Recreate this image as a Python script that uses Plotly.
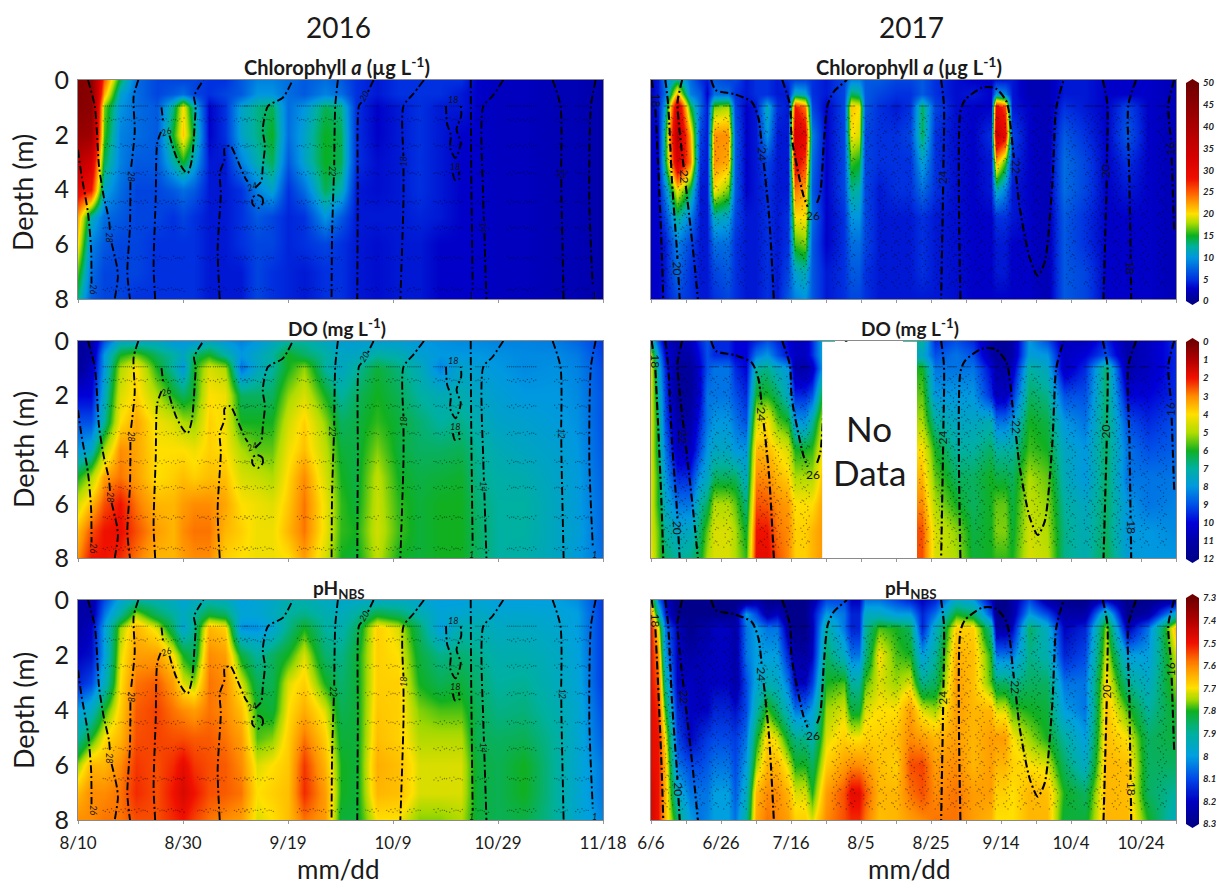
import numpy as np
import plotly.graph_objects as go

W, H = 1216, 887
depths = [0, 0.5, 1, 2, 3, 4, 5, 6, 7, 8]
days_2016 = [0, 2.5, 5, 8, 11, 15, 18, 20, 22, 25, 28, 31, 34, 37, 40, 43, 47, 50, 53, 57, 61, 65, 69, 73, 76, 80, 85, 91, 95, 100]
days_2017 = [0, 2, 4, 7.5, 11, 14, 16, 18, 22, 24, 27, 30, 33, 36, 39, 41, 44, 46, 50, 55, 57, 59.5, 61, 65, 70, 74, 77.5, 81, 87, 92, 97, 98.5, 101, 103, 108, 113, 118, 124, 130, 136, 142, 150]

# each inner list is one sampling date, surface to bottom
chl_2016 = [
 [47,47,46,43,37,30,22,20,16,13],[45,45,45,42,33,28,12,9,8,7],[25,22,17,16,14,11,8,7,6,6],[14,11,10,9,9,8,7,6,6,6],
 [8,8,8,8,7,6,6,6,6,5],[6,6,7,7,7,6,6,5,5,5],[6,7,13,15,12,7,5,5,5,5],[6,8,20,21,15,8,6,5,5,5],[6,6,12,14,11,7,5,5,5,5],
 [5,5,3,3,4,4,4,4,4,4],[5,6,5,5,4,4,4,4,4,4],[7,7,11,11,9,5,5,5,4,4],[9,10,13,13,12,9,7,6,6,6],[9,10,14,15,14,11,6,6,5,5],
 [8,8,8,8,7,5,4.5,4.5,4.5,4.5],[7,7,10,11,11,8,5,5,4,4],[8,9,14,15,15,14,10,6,5,5],[7,8,13,14,14,12,7,5,5,5],[5,5,5,5,5,4,4,4,4,4],
 [4,4,3,3,3.5,3.5,4,3.5,3.5,3.5],[5,5,4,4,4,4,4,4,4,4],[5,5,5,5,5,5,4.5,4,4,4],[5,5,4,4,4,4,4,3,3,3],[5,4,4,3,3,3,3,3,3,3],
 [3,3,3,3,3,3,3,3,3,3],[2.5,2.5,2.5,2.5,2.5,2.5,2.5,2.5,2.5,2.5],[2.5,2.5,2.5,2.5,2.5,2.5,2.5,2.5,2.5,2.5],[2,2,2,2,2,2,2,2,2,2],[2,2,2,2,2,2,2,2,2,2],[1.5,1.5,1.5,1.5,1.5,1.5,1.5,1.5,1.5,1.5],
]
do_2016 = [
 [11.5,11.5,11.5,10,9,8,6,4.5,3.5,3],[11,11,10.5,10,9,7.5,5,3.5,2.5,2],[9,8,8,7.5,7,5,3.2,2.5,2,2],[7.5,6,5,4.5,4,3,2.8,2,1.9,2.2],
 [7.5,5.5,4,3.8,3.3,3.3,3.2,2.8,2.5,2.8],[7.5,6.5,6,5,4.2,4,4,3.5,3.2,3.5],[8,7,7,6,4.5,4,3.8,3.5,3.5,3.5],[8,7.5,8,6.5,5,4,3.6,3.2,3,3.2],
 [8,6.5,6,6,5.2,4.2,3.8,3,2.8,3],[7.5,6,4.5,4,3.8,3.8,3.6,3,2.8,3],[8,7,5,4.2,4.2,4,3.6,3.3,3.5,3.8],[8.3,8,8.6,6.5,6,5,4.5,4,3.8,4],
 [8,7.5,7.5,6.5,6,5.5,4.7,4.2,4.2,4.2],[7.5,7,7,6.5,6,5.5,5,4.4,4.2,4.2],[7,6,6,5.2,4.6,4.2,3.9,3.7,3.5,4],[7,6.5,5.2,4.5,3.8,3.6,3,2.8,2.8,3.2],
 [7.5,7,7,6,5.2,4.8,4.5,4.2,4.2,4.5],[7.8,7.5,7.5,7,6.5,6.2,6,5.8,5.8,6],[7.8,7.5,7,6.5,6.3,6.3,6.3,6.2,6,6.2],[7.8,7,6.2,6,5.8,5.3,4.8,4.7,4.6,4.8],
 [7.8,7.2,6.7,6.4,6.2,6.2,6,5.8,5.7,6],[8,7.7,7.3,7,6.6,6.5,6.3,6.2,6.2,6.2],[8.1,8,8.3,7.3,7,6.5,6.2,6,6,6],[8.2,8,7.6,7.2,6.8,6.4,6.1,6,6,6],
 [8.2,8,7.8,7.5,7.2,6.9,6.8,6.6,6.5,6.5],[8.3,8.1,8,7.8,7.6,7.3,7.1,7,7,7],[8.3,8.2,8.2,8,7.7,7.5,7.2,7,7,7.1],[8.4,8.2,8.1,8,7.9,7.7,7.6,7.5,7.5,7.5],
 [8.7,8.4,8.3,8.2,8.1,8,7.9,7.9,7.8,7.9],[9.3,9.2,9.1,9,9,8.9,8.8,8.7,8.7,8.6],
]
ph_2016 = [
 [8.25,8.25,8.25,8.2,8.15,8.0,7.9,7.75,7.65,7.6],[8.25,8.25,8.2,8.18,8.1,7.95,7.8,7.65,7.6,7.6],[8.1,8.05,8.0,8.0,7.95,7.8,7.7,7.65,7.6,7.58],
 [7.98,7.9,7.75,7.72,7.7,7.68,7.65,7.6,7.58,7.58],[7.9,7.75,7.65,7.62,7.58,7.56,7.55,7.53,7.52,7.55],[7.92,7.85,7.72,7.62,7.56,7.54,7.54,7.55,7.55,7.55],
 [7.95,7.9,7.85,7.7,7.62,7.58,7.55,7.52,7.5,7.52],[7.98,7.95,7.98,7.8,7.72,7.6,7.55,7.48,7.46,7.5],[7.95,7.9,7.88,7.85,7.75,7.62,7.56,7.53,7.5,7.54],
 [7.92,7.82,7.65,7.6,7.58,7.58,7.56,7.55,7.55,7.58],[7.94,7.85,7.68,7.62,7.6,7.6,7.58,7.56,7.56,7.6],[8.0,7.98,8.02,7.82,7.72,7.66,7.62,7.6,7.58,7.62],
 [7.98,7.98,8.02,7.9,7.84,7.8,7.78,7.72,7.7,7.72],[7.96,7.95,7.98,7.85,7.84,7.82,7.76,7.7,7.68,7.7],[7.92,7.9,7.88,7.8,7.72,7.7,7.68,7.67,7.66,7.66],
 [7.92,7.88,7.8,7.72,7.68,7.64,7.58,7.53,7.52,7.58],[7.95,7.92,7.9,7.86,7.8,7.72,7.68,7.65,7.62,7.62],[7.96,7.94,7.92,7.88,7.86,7.84,7.82,7.8,7.8,7.82],
 [7.96,7.9,7.85,7.82,7.82,7.82,7.82,7.82,7.82,7.82],[7.95,7.82,7.68,7.68,7.68,7.67,7.66,7.64,7.65,7.7],[7.95,7.85,7.72,7.7,7.68,7.68,7.68,7.66,7.66,7.7],
 [7.97,7.92,7.85,7.82,7.8,7.76,7.74,7.72,7.72,7.76],[8.0,7.98,8.0,7.88,7.84,7.78,7.74,7.72,7.72,7.76],[8.0,7.97,7.92,7.86,7.82,7.78,7.74,7.72,7.72,7.74],
 [7.98,7.95,7.92,7.88,7.86,7.84,7.84,7.82,7.82,7.82],[8.0,7.97,7.95,7.92,7.9,7.88,7.85,7.84,7.84,7.84],[8.0,7.97,7.95,7.92,7.89,7.87,7.84,7.8,7.8,7.83],
 [8.0,7.98,7.97,7.95,7.94,7.92,7.9,7.9,7.9,7.9],[8.02,8.0,8.0,7.99,7.98,7.97,7.97,7.97,7.97,7.97],[8.12,8.12,8.12,8.12,8.12,8.1,8.08,8.05,8.05,8.03],
]
chl_2017 = [
 [3,3,3,3,3,3,3,3,3,3],[4,4,4,3,3,3,3,3,3,3],[9,8,11,14,14,9,6,4,4,4],[13,22,34,37,33,20,13,9,8,6],[8,9,15,22,24,14,9,6,5,5],
 [5,7,8,6,5,4,4,4,4,4],[4,3,4,4,4,4,4,4,4,4],[7,8,17,23,23,20,12,8,6,5],[6,8,18,23,22,17,11,8,7,6],[6,5,6,7,7,7,6,5,5,5],[4,4,3,3,3,3,4,4,4,4],
 [5,5,4,4,4,4,4,4,4,4],[5,5,12,10,6,5,5,5,5,5],[4,4,5,4,4,4,4,4,4,4],[5,4,4,4,4,4,5,5,6,7],[6,12,28,33,30,24,20,16,11,9],[6,11,24,30,26,22,20,17,12,10],
 [5,5,6,9,8,7,8,7,7,7],[4,4,3,3,3,3,3,3,4,4],[6,6,6,6,6,6,5,5,5,5],[9,14,21,20,16,13,10,8,7,6],[9,13,20,19,15,12,10,8,7,6],[7,7,7,6,6,6,6,6,5,5],
 [7,6,5,5,5,4,4,4,4,4],[6,5,4,5,5,5,4,4,4,4],[6,5,5,6,5,5,4,4,4,4],[7,7,14,14,11,8,5,5,5,4],[5,5,6,5,5,5,4,4,4,4],
 [3.5,3.5,3.5,3.5,3.5,3.5,3.5,3.5,3.5,3.5],[3,4,3,3,3,3,3,3,3,3],[3,3,3,5,4,4,3,3,3,3],[4,10,30,34,22,12,5,4,4,3],[4,9,26,30,16,9,5,4,4,3],[4,4,4,6,5,4,4,3,3,3],
 [2,2,3,3,3,3,3,3,3,3],[2,2,2,2,2,2,2,2,2,2],[4,4,5,7,8,8,7,7,7,7],[4,4,4,5,6,6,5,5,6,6],[3,3,3,3,3,3,3,3,3,3],
 [3,3,6,7,5,4,3,3,3,3],[3,3,3,3,3,3,3,3,3,3],[2,2,2,2,2,2,2,2,2,2],
]
N = None
do_2017 = [
 [7,5,4.5,4.5,4.5,4.5,4.5,4.5,4.5,4.2],[9,8,7.5,7,6.5,6.5,6,6,5.5,5.5],[10.5,10,9.5,9.2,9,8.5,8,7.5,7,6.5],[11,11,11.5,11.5,11,10.5,9.5,8.5,7.5,7],
 [10.5,11,11.5,11.5,11,10.5,9.5,8.5,7.5,6.8],[9.5,9.8,10,10,9.5,9,8,7,6.5,6.2],[9,9,9,8.5,8.5,8,7.5,6.5,5.5,5],[9.5,9.5,8.5,8.5,8,7.5,6.5,5,4.5,4.5],[9.5,9.5,8.5,8.5,8,7.5,6.5,5,4.5,4.5],
 [10,10,9.5,9,8.5,8,6.5,5.5,5,5],[10,10,10,9.5,9,8,7.5,6.8,6.2,5.8],[9.5,8.5,7,6,4.5,3.5,3,2.5,2,1.8],[9,8,6.8,6,4,3.5,3,2.6,2,1.8],
 [9.5,9,7.5,6.5,5.5,4,3.5,3,2.8,2.5],[10,9.8,8,7.5,6,4.5,3.8,3.2,3,3],[10.5,10.5,11,9.5,8,6,5,4,3.8,3.8],[10.5,10.5,11,9.5,8,6,5,4,3.8,3.8],[9.5,9.5,10.5,9,7,5.8,5,4,3.5,3.5],
 [7,7,7,5,4,3.5,3,3,3,3],[N]*10,[N]*10,[N]*10,[N]*10,[N]*10,[N]*10,
 [7,7.5,6,5.5,5,4,3.5,3,2.5,2.5],[7,7.5,6,5.5,5,4,3.5,3,2.5,2.5],[9.5,9,8.5,8,7,6,5.5,5,4.5,4.5],[9,8.5,8.5,8,7.5,7,6.5,6,5.2,5],
 [9.5,9,8.5,8,7.5,7,6.5,6.5,6.3,6.2],[11,11,10,9.5,7.2,6.5,6,6,6,6],[11.5,11.5,11,10.5,8.5,7,6.3,5.5,5.3,5.8],[11.5,11.5,11,10.5,8.5,7,6.3,5.5,5.3,5.8],[11,11,10.5,9.5,8,7,6.5,6.3,6.2,6],
 [8,7.8,7,6.5,6,5.7,5,4.8,4.6,4.5],[9,8,7.5,6.8,6.3,6,5.5,5.2,5,4.8],[10.5,10.5,10.5,9,8,7.5,7.3,7,6.8,6.8],[10.5,10,9.5,9,8.5,8,8,7.5,7.3,7.2],
 [9.5,9,6.5,6.5,6.5,6.5,6.5,6.5,6.5,6.3],[11,11,11,10,9,8.5,8.5,8,8,7.8],[10.5,10.5,10.5,10,9.5,9,8.5,8.5,8,8],[9.5,9.5,9.5,9.5,9,8.8,8.5,8.3,8.2,8],
]
ph_2017 = [
 [7.7,7.6,7.5,7.5,7.5,7.48,7.48,7.48,7.46,7.46],[8.05,7.9,7.7,7.6,7.55,7.52,7.5,7.5,7.5,7.5],[8.2,8.15,8.05,8,7.9,7.8,7.7,7.65,7.65,7.65],
 [8.3,8.3,8.2,8.2,8.2,8.15,8.1,8.05,7.95,7.85],[8.3,8.3,8.3,8.25,8.2,8.2,8.2,8.1,8.05,8.0],[8.3,8.3,8.25,8.22,8.22,8.2,8.15,8.1,8.05,8.05],
 [8.3,8.3,8.25,8.22,8.2,8.2,8.12,8.08,8.05,8.03],[8.3,8.3,8.2,8.2,8.2,8.15,8.1,8.05,8.0,8.0],[8.3,8.3,8.2,8.2,8.2,8.15,8.1,8.05,8.0,8.0],[8.3,8.28,8.25,8.25,8.25,8.18,8.12,8.1,8.08,8.05],
 [8.3,8.0,8.05,8.05,8.1,8.1,8.05,8,7.95,7.9],[8.25,8.1,8.0,8,7.98,7.92,7.82,7.75,7.65,7.63],[8.3,8.25,8.05,8,7.92,7.78,7.68,7.65,7.6,7.58],
 [8.3,8.2,8.05,8,7.95,7.85,7.72,7.65,7.6,7.6],[8.3,8.3,8.25,8.15,8.05,7.95,7.82,7.72,7.65,7.62],[8.3,8.3,8.3,8.25,8.2,8.05,7.88,7.8,7.72,7.68],[8.3,8.3,8.3,8.25,8.2,8.05,7.88,7.8,7.72,7.68],
 [8.25,8.2,8.22,8.2,8.12,8.0,7.92,7.85,7.8,7.72],[8.1,8,7.9,7.85,7.8,7.75,7.72,7.68,7.62,7.6],[8.1,8.05,8.05,7.95,7.78,7.72,7.68,7.62,7.55,7.55],
 [8.2,8.15,8.15,8.05,7.9,7.82,7.7,7.6,7.48,7.52],[8.2,8.15,8.15,8.05,7.9,7.82,7.7,7.6,7.48,7.52],[8.05,7.95,7.9,7.88,7.78,7.72,7.68,7.62,7.55,7.58],[8.05,7.95,7.78,7.7,7.72,7.7,7.68,7.66,7.65,7.66],
 [8.1,8.0,7.8,7.78,7.75,7.7,7.66,7.68,7.65,7.65],[8.15,8,7.85,7.8,7.72,7.62,7.6,7.55,7.58,7.62],[8.2,8.15,8.15,8,7.88,7.72,7.62,7.54,7.55,7.6],
 [8.15,8.05,7.95,7.9,7.85,7.75,7.65,7.62,7.6,7.58],[7.95,7.8,7.68,7.64,7.62,7.62,7.62,7.6,7.58,7.58],[8.0,7.85,7.68,7.66,7.66,7.65,7.65,7.65,7.62,7.62],
 [8.2,8.1,7.9,7.8,7.78,7.65,7.62,7.62,7.62,7.65],[8.3,8.3,8.25,8.05,7.85,7.72,7.62,7.65,7.68,7.7],[8.3,8.3,8.25,8.05,7.85,7.72,7.62,7.65,7.68,7.7],[8.25,8.25,8.2,8.05,7.88,7.78,7.7,7.68,7.7,7.7],
 [8.1,8,7.85,7.88,7.85,7.8,7.75,7.7,7.65,7.65],[8.25,8.1,7.95,7.92,7.85,7.82,7.8,7.72,7.66,7.65],[8.3,8.25,8.2,8.15,8.05,8.0,7.9,7.85,7.8,7.82],
 [8.3,8.25,8.15,8.1,8.05,8.05,8.0,7.95,7.85,7.82],[8.2,7.9,7.75,7.72,7.68,7.66,7.66,7.65,7.65,7.65],[8.3,8.3,8.22,8.0,7.88,7.78,7.7,7.66,7.66,7.65],
 [8.3,8.25,8.05,8.0,7.95,7.9,7.85,7.85,7.85,7.8],[8.25,7.95,7.65,7.72,7.75,7.8,7.82,7.85,7.9,7.95],
]

# temperature isotherms, (day, depth)
isotherms_2016 = [
 [(1.9,0),(3.2,.95),(3.6,1.9),(4,3.15),(4.9,4.25),(5.9,5.1),(6.2,5.8),(7.4,6.8),(7.6,7.2),(7,8)],
 [(0,2.55),(.6,3.4),(1.9,4.85),(2.5,6.2),(2.6,7.8)],
 [(11.5,0),(10.6,.6),(10.8,1.9),(10,3.4),(9.9,5.35),(9.4,7.05),(9.9,8)],
 [(15.9,1),(16.2,1.5)],
 [(14.7,8),(14.4,6.8),(14.8,4.35),(15.1,2.3),(16,1.8),(17.2,1.9),(18.7,2.8),(20.2,3.3),(20.9,3.4),(21.7,2.9),(22.2,1.7),(22.4,.95),(22.1,.6),(23.9,0)],
 [(27,8),(26.6,6.2),(27.2,4.1),(27,3.4),(27.9,2.9),(27.9,2.5),(29,2.4),(30.3,2.9),(31.9,3.6),(33.4,4),(34.9,3.7),(35.2,3.15),(35.6,2.4),(35.2,1.8),(36.2,.95),(39,.65),(40.9,0)],
 [(34.1,4.2),(35.1,4.3),(35.2,4.5),(34.3,4.68),(33.3,4.55),(33.2,4.3),(34.1,4.2)],
 [(49.5,0),(49,.95),(48.8,3.15),(48.4,5.6),(48.3,8)],
 [(56.3,0),(54.8,.6),(53.5,.95),(53.3,4.4),(53.2,8)],
 [(65.9,0),(63.9,.5),(62,.95),(62,4.4),(61.4,8)],
 [(70.1,.95),(70.3,1.6),(71,2),(70.9,2.5),(71.9,2.85),(72.9,2.3),(72.1,1.8),(73,1.3),(72.9,.95)],
 [(71.4,3.4),(71.8,3.65),(72.7,3.6),(72.5,3.35)],
 [(74.8,0),(74.9,3.15),(75.2,8)],
 [(81,0),(78.9,.6),(77.2,.95),(77.2,4.4),(77.8,8)],
 [(90.4,0),(91.9,.95),(92.1,4.4),(92.5,8)],
 [(98.6,0),(97.7,.95),(97.4,4.4),(98.1,7.8)],
]
isotherms_2017 = [
 [(.2,0),(1.2,.9),(2,3),(3,6),(3.5,8)],
 [(4.1,0),(4.9,.9),(6,3.7),(7.4,6.2),(8.2,8)],
 [(8.9,0),(7.6,.8),(8.2,1.9),(9.8,3.7),(12,6.2),(13.4,8)],
 [(17.2,0),(18.5,.37),(23.9,.52),(28.8,.8),(30.7,1.4),(32.1,2.9),(33.7,4.9),(35.1,8)],
 [(37.5,0),(39.7,.9),(40.2,2.1),(43.5,4.2),(45.1,4.75),(46.7,4.8),(48.4,4.1),(49.5,2.1),(50.5,.9),(52.2,.43),(56,0)],
 [(82.9,0),(83.7,.9),(83.5,3.7),(82.9,8)],
 [(88.4,8),(88.4,1.15),(89.7,.73),(94.6,.28),(98.4,.3),(101.6,.8),(103.3,2.4),(105.4,4.7),(108.2,6.5),(110.5,7.15),(112.5,6.65),(114.7,3.7),(115.8,1),(117.9,0)],
 [(129.1,0),(130.4,.9),(130.2,3.7),(129.3,8)],
 [(138.6,0),(136.4,.9),(136.7,3.7),(137.2,8)],
 [(149.5,0),(147.8,.9),(148.6,2.25),(149.5,5.55)],
]
iso_labels_2016 = [(2.9,7.65,"26",90),(6.1,5.75,"28",90),(10.2,3.5,"28",90),(16.8,1.87,"26",-20),(33.1,3.88,"24",-20),(48.6,3.33,"22",90),
 (54.4,.6,"20",-60),(62,3.0,"18",-90),(71.4,.73,"18",0),(71.8,3.15,"18",0),(77.2,5.37,"14",90),(92.2,3.4,"12",90),(75,7.88,"1",0),(98.3,7.88,"1",0)]
iso_labels_2017 = [(1.3,.73,"18",90),(7.6,6.87,"20",90),(9.5,3.54,"22",90),(31.7,2.7,"24",90),(46.4,4.94,"26",0),(83.4,3.56,"24",-90),
 (104.3,3.17,"22",90),(129.9,3.35,"20",-90),(137.2,6.87,"18",90),(148.4,2.5,"16",-90)]

# sampling stations that appear as stippling
stations_2016 = [6,9,12,16,19,24,27,31,33,36,43,46,49,56,60,64,69,72,77,83,86,92,96]
stations_2017 = [5,9,14,18,22,26,32,36,40,44,53,57,62,66,70,74,78,82,86,90,94,98,102,106,110,115,120,125,128,133,137,141,146]
station_offsets = [-1.2,-.8,-.4,0,.4,.8,1.2]
row_jitter = [0,.12,-.09,.2,-.17,.05,-.03]
rows_2016 = [.95,1.45,2.4,3.4,4.45,5.4,6.5,7.65]
rows_2017 = [.95,1.4,1.9,2.4,2.9,3.4,3.9,4.4,4.9,5.4,5.9,6.4,6.9,7.4]

xticks_2016 = [0,20,40,60,80,100]
xlabels_2016 = ["8/10","8/30","9/19","10/9","10/29","11/18"]
xticks_2017 = [0,20,40,60,80,100,120,140]
xlabels_2017 = ["6/6","6/26","7/16","8/5","8/25","9/14","10/4","10/24"]
xminor_2017 = [10,30,50,70,90,110,130,150]
chl_ticks = [0,5,10,15,20,25,30,35,40,45,50]
do_ticks = [0,1,2,3,4,5,6,7,8,9,10,11,12]
ph_ticks = [7.3,7.4,7.5,7.6,7.7,7.8,7.9,8,8.1,8.2,8.3]

chl_scale = [[0,"#00008b"],[.06,"#0000c8"],[.1,"#0030e0"],[.2,"#0096e0"],[.25,"#00b0a0"],[.3,"#08b020"],[.36,"#b0dc00"],[.4,"#ffe000"],
             [.5,"#ff5a00"],[.56,"#ee1000"],[.65,"#d80000"],[.8,"#aa0000"],[1,"#6e0000"]]
do_scale = [[0,"#00008b"],[.083,"#0000a8"],[.167,"#0000d8"],[.25,"#0050e8"],[.333,"#0098e0"],[.417,"#00b0a0"],[.5,"#10b020"],[.583,"#b0dc00"],
            [.667,"#ffdf00"],[.75,"#ff8c00"],[.833,"#f01000"],[.917,"#b00000"],[1,"#700000"]]
ph_scale = [[0,"#00008b"],[.1,"#0000c0"],[.2,"#0048e8"],[.3,"#00a0e0"],[.4,"#00b0a0"],[.5,"#10b020"],[.55,"#a0d800"],[.6,"#ffe000"],
            [.7,"#ff8c00"],[.8,"#f01000"],[.9,"#b00000"],[1,"#700000"]]

FONT = "Lato"
def px(x): return x / W
def py(y): return 1 - y / H

rows_px = [(80, 299), (341, 558), (600, 820)]
cols_px = [(78, 603), (651, 1176)]
panels = [
 (0, 0, chl_2016, days_2016, chl_scale, 0, 50, False, None),
 (0, 1, chl_2017, days_2017, chl_scale, 0, 50, False, (chl_ticks, 83, 301)),
 (1, 0, do_2016, days_2016, do_scale, 0, 12, True, None),
 (1, 1, do_2017, days_2017, do_scale, 0, 12, True, (do_ticks, 342, 559)),
 (2, 0, ph_2016, days_2016, ph_scale, 7.3, 8.3, True, None),
 (2, 1, ph_2017, days_2017, ph_scale, 7.3, 8.3, True, (ph_ticks, 598, 824)),
]

def split_at_labels(line, labels, sx, sy, half_gap):
    """Break an isotherm where a label sits on it, as the contour software does."""
    segs = [list(line)]
    for (lx, ly, _t, _a) in labels:
        out = []
        for seg in segs:
            best = None; s = 0; cum = [0]
            for a, b in zip(seg, seg[1:]):
                ax_, ay_ = a[0]*sx, a[1]*sy; bx_, by_ = b[0]*sx, b[1]*sy
                L = float(np.hypot(bx_-ax_, by_-ay_)) or 1e-6
                t = max(0, min(1, ((lx*sx-ax_)*(bx_-ax_)+(ly*sy-ay_)*(by_-ay_))/L**2))
                dist = np.hypot(ax_+t*(bx_-ax_)-lx*sx, ay_+t*(by_-ay_)-ly*sy)
                if best is None or dist < best[0]:
                    best = (dist, s+t*L)
                s += L; cum.append(s)
            if best is None or best[0] > 5 or len(seg) < 2:
                out.append(seg); continue
            def at(v):
                v = max(0, min(s, v))
                for k in range(len(seg)-1):
                    if cum[k+1] >= v:
                        t = (v-cum[k])/((cum[k+1]-cum[k]) or 1e-6)
                        return (seg[k][0]+t*(seg[k+1][0]-seg[k][0]), seg[k][1]+t*(seg[k+1][1]-seg[k][1]))
                return seg[-1]
            v0, v1 = best[1]-half_gap, best[1]+half_gap
            a_seg = [p for p, c in zip(seg, cum) if c < v0] + ([at(v0)] if v0 > 0 else [])
            b_seg = ([at(v1)] if v1 < s else []) + [p for p, c in zip(seg, cum) if c > v1]
            out += [q for q in (a_seg, b_seg) if len(q) > 1]
        segs = out
    return segs

fig = go.Figure()
layout = dict(width=W, height=H, margin=dict(l=0, r=0, t=0, b=0, pad=0), paper_bgcolor="white", plot_bgcolor="white",
              showlegend=False, font=dict(family=FONT, color="#1a1a1a"))
annots, shapes = [], []
cbi = 7

for i, (r, c, cols, days, scale, zmin, zmax, flip, cb) in enumerate(panels):
    n = "" if i == 0 else str(i + 1)
    ax, ay = "x" + n, "y" + n
    assert len(cols) == len(days), (i, len(cols), len(days))
    arr = np.array(cols, dtype=float).T
    if flip:
        arr = zmin + zmax - arr
    z = [[None if np.isnan(v) else float(v) for v in row] for row in arr]
    fig.add_trace(go.Heatmap(x=days, y=depths, z=z, colorscale=scale, zmin=zmin, zmax=zmax, zsmooth="best", xaxis=ax, yaxis=ay, hoverinfo="skip", showscale=False))

    if cb:
        ticks, y0, y1 = cb
        tv = [zmin + zmax - t for t in ticks] if flip else ticks
        ramp = np.linspace(zmin, zmax, 220).tolist()
        cx, cy = "x%d" % cbi, "y%d" % cbi
        fig.add_trace(go.Heatmap(x=[0, 1], y=ramp, z=[[v, v] for v in ramp], colorscale=scale, zmin=zmin, zmax=zmax, showscale=False, xaxis=cx, yaxis=cy, hoverinfo="skip"))
        layout["xaxis%d" % cbi] = dict(domain=[px(1186), px(1199)], anchor=cy, range=[0, 1], visible=False, fixedrange=True, automargin=False)
        layout["yaxis%d" % cbi] = dict(domain=[py(y1), py(y0)], anchor=cx, side="right", range=[zmin, zmax], tickvals=tv, ticktext=[str(t) for t in ticks],
                                       ticks="", showgrid=False, zeroline=False, showline=False, ticklabelstandoff=3, automargin=False,
                                       tickfont=dict(family=FONT, size=9.5, style="italic", weight="bold", color="#222"))
        cbi += 1
        top = scale[-1][1]; bot = scale[0][1]
        shapes.append(dict(type="path", xref="paper", yref="paper", line=dict(width=0), fillcolor=top,
            path=f"M {px(1186)} {py(y0)} L {px(1192.5)} {py(y0-4)} L {px(1199)} {py(y0)} Z"))
        shapes.append(dict(type="path", xref="paper", yref="paper", line=dict(width=0), fillcolor=bot,
            path=f"M {px(1186)} {py(y1)} L {px(1192.5)} {py(y1+4)} L {px(1199)} {py(y1)} Z"))

    # stippling
    sts, rws = (stations_2016, rows_2016) if c == 0 else (stations_2017, rows_2017)
    sx, sy = [], []
    for di, d in enumerate(rws):
        for si, s in enumerate(sts):
            for oi, o in enumerate(station_offsets):
                if r == 1 and c == 1 and 48.7 < s + o < 76:
                    continue
                jit = 0 if di == 0 else row_jitter[(oi + si + di) % 7] * (1 if c == 1 else .35)
                sx.append(s + o); sy.append(d + jit)
    fig.add_trace(go.Scatter(x=sx, y=sy, mode="markers", xaxis=ax, yaxis=ay, hoverinfo="skip",
                             marker=dict(size=1.4, color="rgba(0,0,0,0.42)", line=dict(width=0))))

    if r == 1 and c == 1:
        shapes.append(dict(type="rect", xref=ax, yref=ay, x0=48.9, x1=76, y0=0.03, y1=8, fillcolor="white", line=dict(width=0), layer="above"))

    isos, labs = (isotherms_2016, iso_labels_2016) if c == 0 else (isotherms_2017, iso_labels_2017)
    scale_x = 5.25 if c == 0 else 3.5
    for line in isos:
        for seg in split_at_labels(line, labs, scale_x, 27.3, 6 if c == 0 else 9):
            fig.add_trace(go.Scatter(x=[p[0] for p in seg], y=[p[1] for p in seg], mode="lines", xaxis=ax, yaxis=ay, hoverinfo="skip",
                                     line=dict(color="black", width=2.1 if c == 1 else 1.9, dash="8px,3px,2px,3px", shape="spline", smoothing=0.7)))
    for (xx, yy, t, ang) in labs:
        annots.append(dict(x=xx, y=yy, xref=ax, yref=ay, text=t, showarrow=False, textangle=ang,
                           font=dict(size=9 if c == 0 else 12, style="italic" if c == 0 else "normal", color="#111", family=FONT)))

    x0, x1 = cols_px[c]; y0, y1 = rows_px[r]
    tv, tl = (xticks_2016, xlabels_2016) if c == 0 else (xticks_2017, xlabels_2017)
    xa = dict(domain=[px(x0), px(x1)], anchor=ay, range=[0, days[-1]], tickvals=tv, ticktext=tl, showticklabels=r == 2, automargin=False,
              ticks="outside", ticklen=3, tickcolor="#999", showgrid=False, zeroline=False, showline=True, linecolor="#8a8a8a", linewidth=1,
              mirror=True, ticklabelstandoff=5, tickfont=dict(size=17, family=FONT, color="#1a1a1a"))
    if c == 1:
        xa["minor"] = dict(tickvals=xminor_2017, ticks="outside", ticklen=3, tickcolor="#999", showgrid=False)
    layout["xaxis" + n] = xa
    layout["yaxis" + n] = dict(domain=[py(y1), py(y0)], anchor=ax, range=[8, 0], tickvals=[0, 2, 4, 6, 8], automargin=False,
                               showticklabels=c == 0, ticks="", showgrid=False, zeroline=False, showline=True, linecolor="#8a8a8a", linewidth=1,
                               mirror=True, ticklabelstandoff=3, tickfont=dict(size=25, family=FONT, color="#1a1a1a"))

def label(x, y, text, size, angle=0):
    annots.append(dict(x=px(x), y=py(y), xref="paper", yref="paper", text=text, showarrow=False, textangle=angle,
                       xanchor="center", yanchor="middle", font=dict(size=size, family=FONT, color="#1a1a1a")))

label(338, 27, "2016", 28); label(911, 27, "2017", 28)
chl_t = "<b>Chlorophyll <i>a</i> (µg L<sup>-1</sup>)</b>"
do_t = "<b>DO (mg L<sup>-1</sup>)</b>"
ph_t = "<b>pH<sub>NBS</sub></b>"
label(337, 66, chl_t, 20); label(909, 66, chl_t, 20)
label(337, 327, do_t, 19); label(910, 327, do_t, 19)
label(338, 589, ph_t, 19); label(910, 589, ph_t, 19)
for yc, dy in ((193, 0), (450, 0), (711, 0)):
    label(23, yc + dy, "Depth (m)", 27, -90)
label(338, 869, "mm/dd", 26); label(909, 869, "mm/dd", 26)
label(869, 428, "No", 35); label(869, 472, "Data", 35)

layout["annotations"] = annots
layout["shapes"] = shapes
fig.update_layout(**layout)
fig.write_html("out.html", config=dict(displayModeBar=False),
               post_script="document.body.style.margin='0';document.documentElement.style.overflow='hidden';")
